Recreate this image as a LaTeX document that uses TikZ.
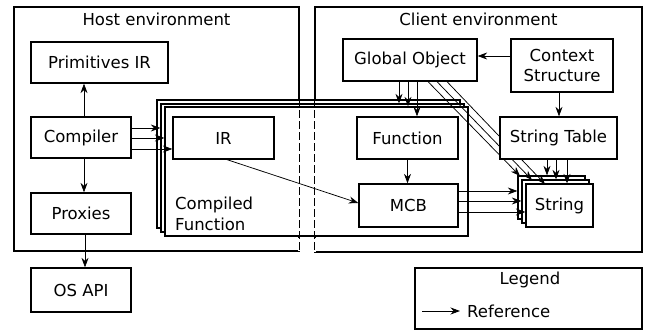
\documentclass[tikz,border=0pt]{standalone}
\usepackage{fontspec}
\setmainfont{DejaVu Sans}
\usetikzlibrary{arrows.meta}
\begin{document}
\begin{tikzpicture}[x=1pt,y=-1pt,
  every node/.style={font=\fontsize{16.5}{20.5}\selectfont},
  box/.style={draw, line width=1.3pt, fill=white, inner sep=0pt, align=center},
  envbox/.style={draw, line width=1.3pt, inner sep=0pt},
  arr/.style={line width=0.75pt, -{Stealth[length=9.5pt,width=7pt]}},
  envdash/.style={line width=1.3pt, dash pattern=on 8pt off 3pt}]

\useasboundingbox (0,0) rectangle (649,331);

% environments
\node[envbox, minimum width=285pt, minimum height=244pt] (host) at (156.5,129) {};
\node[envbox, minimum width=327pt, minimum height=245pt] (client) at (478.5,129.5) {};
\node (hosttitle) at (156.5,19) {Host environment};
\node (clienttitle) at (478.5,19) {Client environment};

% compiled function stack
\node[box, minimum width=303pt, minimum height=128pt] (cfback) at (308.5,164) {};
\node[box, minimum width=303pt, minimum height=128pt] (cfmid) at (312.5,168) {};
\node[box, minimum width=303pt, minimum height=129pt] (cffront) at (316.5,171.5) {};
\node[anchor=north west, align=left, inner sep=0pt] (cftext) at (175,197) {Compiled\\Function};

% dashed environment borders over the stack
\draw[white, line width=2.5pt] ([yshift=-1pt]host.east |- cffront.south) -- ([yshift=1pt]host.south east);
\draw[white, line width=2.5pt] ([yshift=-1pt]client.west |- cffront.south) -- ([yshift=1pt]client.south west);
\draw[envdash] (host.east |- cfback.north) -- (host.south east);
\draw[envdash] (client.west |- cfback.north) -- (client.south west);

% host nodes
\node[box, minimum width=137pt, minimum height=41pt] (prim) at (99.5,62.5) {Primitives IR};
\node[box, minimum width=100pt, minimum height=41pt] (compiler) at (81,137.5) {Compiler};
\node[box, minimum width=100pt, minimum height=41pt] (proxies) at (81,213.5) {Proxies};
\node[box, minimum width=100pt, minimum height=44pt] (osapi) at (81,290) {OS API};
\node[box, minimum width=101pt, minimum height=42pt] (ir) at (223.5,138) {IR};

% client nodes
\node[box, minimum width=134pt, minimum height=42pt] (global) at (410,60) {Global Object};
\node[box, minimum width=102pt, minimum height=53pt] (context) at (562,65.5) {Context\\Structure};
\node[box, minimum width=101pt, minimum height=42pt] (function) at (407.5,138) {Function};
\node[box, minimum width=99pt, minimum height=43pt] (mcb) at (408.5,205.5) {MCB};
\node[box, minimum width=67pt, minimum height=43pt] (strback) at (551.5,197.5) {};
\node[box, minimum width=67pt, minimum height=43pt] (strmid) at (555.5,201.5) {};
\node[box, minimum width=67pt, minimum height=43pt] (strfront) at (559.5,205.5) {String};

% global object -> string (behind string table)
\coordinate (gs1) at ([xshift=18pt]global.south);
\coordinate (gs2) at ([xshift=27pt]global.south);
\coordinate (gs3) at ([xshift=37pt]global.south);
\coordinate (gt1) at (520,176);
\coordinate (gt2) at (532,180);
\coordinate (gt3) at (545,184);
\draw[arr] (gs1) -- (gt1);
\draw[arr] (gs2) -- (gt2);
\draw[arr] (gs3) -- (gt3);

\node[box, minimum width=117pt, minimum height=42pt] (strtable) at (558.5,138) {String Table};

% legend
\node[box, minimum width=227pt, minimum height=61pt] (legend) at (528.5,298.5) {};
\node (legendtitle) at (530,280) {Legend};
\coordinate (la) at (422,311);
\coordinate (lb) at (460,311);
\draw[arr] (la) -- (lb);
\node[anchor=west, inner sep=0pt] (legref) at (467,311) {Reference};

% host connectors
\coordinate (cp) at ([xshift=3pt]compiler.north);
\draw[arr] (cp) -- (cp |- prim.south);
\coordinate (cx) at ([xshift=3pt]compiler.south);
\draw[arr] (cx) -- (cx |- proxies.north);
\coordinate (px) at ([xshift=4pt]proxies.south);
\draw[arr] (px) -- (px |- osapi.north);

\coordinate (c1) at ([yshift=9.5pt]compiler.east);
\coordinate (c2) at ([yshift=-0.5pt]compiler.east);
\coordinate (c3) at ([yshift=-11.5pt]compiler.east);
\draw[arr] (c1) -- (c1 -| cfmid.west);
\draw[arr] (c2) -- (c2 -| cffront.west);
\draw[arr] (c3) -- (c3 -| ir.west);

\coordinate (irs) at ([xshift=3.5pt]ir.south);
\coordinate (mcbw) at ([yshift=2.5pt]mcb.west);
\draw[arr] (irs) -- (mcbw);

% client connectors
\coordinate (k1) at ([yshift=9.5pt]context.west);
\draw[arr] (k1) -- (k1 -| global.east);
\coordinate (k2) at ([xshift=-3pt]context.south);
\draw[arr] (k2) -- (k2 |- strtable.north);

\coordinate (g1) at ([xshift=-11pt]global.south);
\coordinate (g2) at ([xshift=-2pt]global.south);
\coordinate (g3) at ([xshift=7pt]global.south);
\draw[arr] (g1) -- (g1 |- cfmid.north);
\draw[arr] (g2) -- (g2 |- cffront.north);
\draw[arr] (g3) -- (g3 |- function.north);

\draw[arr] (function.south) -- (function.south |- mcb.north);

\coordinate (m1) at ([yshift=14.5pt]mcb.east);
\coordinate (m2) at ([yshift=4.5pt]mcb.east);
\coordinate (m3) at ([yshift=-6.5pt]mcb.east);
\draw[arr] (m1) -- (m1 -| strback.west);
\draw[arr] (m2) -- (m2 -| strmid.west);
\draw[arr] (m3) -- (m3 -| strfront.west);

\coordinate (s1) at ([xshift=-11.5pt]strtable.south);
\coordinate (s2) at ([xshift=-2.5pt]strtable.south);
\coordinate (s3) at ([xshift=8.5pt]strtable.south);
\draw[arr] (s1) -- (s1 |- strback.north);
\draw[arr] (s2) -- (s2 |- strmid.north);
\draw[arr] (s3) -- (s3 |- strfront.north);
\end{tikzpicture}
\end{document}
